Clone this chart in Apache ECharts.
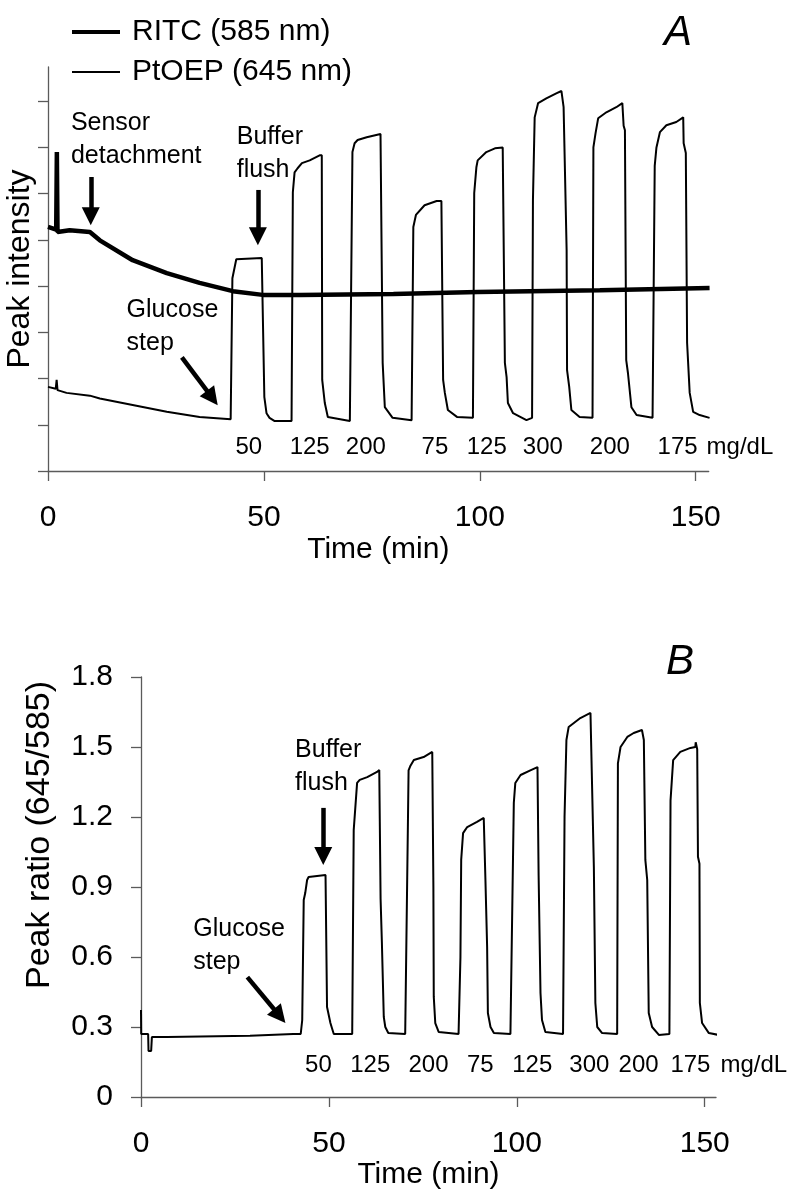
<!DOCTYPE html>
<html><head><meta charset="utf-8">
<script src="https://cdn.jsdelivr.net/npm/echarts@6/dist/echarts.min.js"></script>
<style>html,body{margin:0;padding:0;background:#fff}#c{width:800px;height:1196px}</style>
</head><body><div id="c"></div>
<script>
// ---------- Panel A data (time in min, intensity in arbitrary tick units) ----------
const ptoepTime = [0, 1.8, 2.0, 2.2, 4.3, 9.7, 12.0, 19.6, 27.5, 35.1, 42.3,
  42.5, 42.7, 43.6, 49.5, 49.7, 50.1, 50.6, 51.3, 52.5, 56.4,
  56.7, 57.1, 57.8, 58.8, 60.6, 62.9, 63.4, 63.5, 64.1, 64.8, 69.9, 70.3,
  70.5, 71.0, 71.7, 73.8, 77.0, 77.3, 77.5, 78.0, 79.8, 84.2,
  84.6, 85.2, 87.2, 90.0, 91.1, 91.5, 91.9, 92.6, 94.7, 98.4,
  98.7, 99.2, 99.5, 101.5, 103.5, 105.3, 105.8, 106.2, 106.5, 107.7, 110.8, 112.1,
  112.3, 112.7, 113.5, 115.4, 117.7, 118.9, 119.4, 120.1, 120.2, 120.7, 121.2, 123.1, 126.1,
  126.3, 126.8, 127.4, 129.3, 131.6, 133.0, 133.3, 133.6, 133.9, 134.3, 135.1, 136.3, 140.0,
  140.5, 140.9, 141.7, 143.2, 145.5, 147.1, 147.2, 147.7, 148.0, 148.6, 149.4, 150.9, 153.2];
const ptoepValue = [1.82, 1.78, 1.97, 1.75, 1.69, 1.63, 1.57, 1.43, 1.28, 1.17, 1.12,
  1.12, 4.17, 4.58, 4.61, 4.60, 1.60, 1.25, 1.15, 1.08, 1.08,
  6.03, 6.46, 6.55, 6.66, 6.72, 6.83, 6.83, 1.97, 1.47, 1.17, 1.08, 1.08,
  6.90, 7.09, 7.16, 7.22, 7.29, 7.29, 2.34, 1.38, 1.15, 1.10,
  5.28, 5.54, 5.75, 5.84, 5.84, 1.97, 1.69, 1.32, 1.17, 1.15,
  6.01, 6.57, 6.72, 6.90, 6.98, 7.00, 2.34, 2.03, 1.47, 1.25, 1.10, 1.15,
  5.86, 7.65, 7.96, 8.06, 8.17, 8.22, 7.87, 4.78, 2.18, 1.82, 1.32, 1.17, 1.15,
  7.00, 7.31, 7.63, 7.76, 7.87, 7.96, 7.47, 7.37, 2.40, 2.12, 1.38, 1.21, 1.15,
  6.60, 7.00, 7.33, 7.48, 7.55, 7.65, 7.09, 6.88, 2.77, 1.69, 1.28, 1.21, 1.15];

const ritcTime = [0, 1.9, 2.05, 2.2, 5.0, 9.7, 12.0, 19.6, 27.5, 35.1, 42.8, 49.7, 58.3, 80.0, 99.5, 127.8, 153.2];
const ritcValue = [5.28, 5.22, 6.90, 5.17, 5.21, 5.17, 4.99, 4.56, 4.28, 4.07, 3.89, 3.81, 3.81, 3.83, 3.87, 3.91, 3.96];

// ---------- Panel B data (peak ratio 645/585) ----------
const ratioTime = [0, 0.05, 1.9, 2.0, 2.7, 2.9, 7.0, 29.0, 40.5, 42.5,
  42.9, 43.3, 43.7, 44.2, 44.6, 49.1, 49.2, 49.5, 50.4, 50.8, 51.3, 56.2,
  56.6, 57.5, 58.2, 60.2, 62.8, 63.4, 63.7, 63.75, 64.1, 64.6, 65.0, 65.8, 70.3,
  71.0, 71.2, 71.7, 72.6, 75.2, 77.5, 77.6, 77.8, 77.9, 78.3, 79.2, 84.5,
  85.0, 85.2, 85.7, 86.8, 89.4, 91.2, 91.6, 91.65, 92.1, 92.3, 93.0, 93.9, 98.3,
  98.7, 99.2, 99.6, 101.0, 103.6, 105.5, 105.8, 106.3, 106.7, 107.6, 112.3,
  112.7, 113.2, 113.8, 116.9, 119.6, 120.1, 120.5, 120.9, 121.4, 122.7, 126.7,
  126.9, 127.6, 129.4, 131.1, 133.3, 133.8, 134.2, 134.7, 135.1, 136.0, 137.8, 140.6,
  140.9, 141.6, 143.5, 146.2, 147.5, 147.6, 148.0, 148.2, 148.6, 148.7, 149.3, 151.1, 153.7];
const ratioValue = [0.373, 0.27, 0.27, 0.197, 0.197, 0.257, 0.257, 0.262, 0.27, 0.27,
  0.33, 0.844, 0.874, 0.93, 0.943, 0.951, 0.95, 0.386, 0.317, 0.296, 0.27, 0.27,
  1.144, 1.346, 1.359, 1.371, 1.393, 1.401, 1.40, 0.85, 0.66, 0.343, 0.30, 0.274, 0.27,
  1.144, 1.40, 1.42, 1.444, 1.457, 1.479, 1.479, 0.90, 0.43, 0.317, 0.279, 0.27,
  0.60, 1.016, 1.131, 1.157, 1.179, 1.196, 1.196, 0.93, 0.643, 0.36, 0.30, 0.274, 0.27,
  0.27, 1.26, 1.346, 1.38, 1.40, 1.414, 0.95, 0.446, 0.33, 0.279, 0.27,
  1.20, 1.53, 1.586, 1.624, 1.646, 1.646, 0.986, 0.403, 0.30, 0.274, 0.27,
  1.43, 1.50, 1.543, 1.56, 1.573, 1.53, 1.016, 0.93, 0.36, 0.30, 0.266, 0.27,
  1.27, 1.444, 1.479, 1.496, 1.50, 1.52, 1.49, 1.03, 1.0, 0.403, 0.317, 0.274, 0.266];

// ---------- Tick labels / annotation texts ----------
const xTicks = [0, 50, 100, 150];
const yTicksA = [0, 1, 2, 3, 4, 5, 6, 7, 8];
const concTexts = ['50', '125', '200', '75', '125', '300', '200', '175'];
const concTimeA = [46.5, 60.6, 73.6, 89.6, 101.6, 114.6, 130.1, 145.8];
const concTimeB = [47.2, 61.0, 76.5, 90.3, 104.1, 119.3, 132.4, 146.2];
const notesA = [
  {t: 5.3, y: 7.16, text: 'Sensor\ndetachment'},
  {t: 43.7, y: 6.86, text: 'Buffer\nflush'},
  {t: 18.2, y: 3.12, text: 'Glucose\nstep'}
];
const notesB = [
  {t: 41.0, y: 1.416, text: 'Buffer\nflush'},
  {t: 13.9, y: 0.647, text: 'Glucose\nstep'}
];
const arrowsA = [
  {from: [9.9, 6.36], to: [9.9, 5.51]},
  {from: [48.6, 6.08], to: [48.6, 5.08]},
  {from: [31.0, 2.46], to: [38.05, 1.58]}
];
const arrowsB = [
  {from: [48.5, 1.239], to: [48.5, 1.033]},
  {from: [28.3, 0.514], to: [36.9, 0.347]}
];

const FONT = '"Liberation Sans", Arial, Helvetica, sans-serif';
const AX = '#5a5a5a';
const zip = (t, v) => t.map((x, i) => [x, v[i]]);

function xAxisCfg(grid, gap) {
  return {
    type: 'value', gridIndex: grid, min: 0, max: 153, interval: 50,
    name: 'Time (min)', nameLocation: 'middle', nameGap: gap,
    nameTextStyle: {fontSize: 30, fontFamily: FONT, color: '#000'},
    axisLine: {show: true, lineStyle: {color: AX, width: 1.3}},
    axisTick: {show: true, inside: false, length: 10, lineStyle: {color: AX, width: 1.3}, customValues: xTicks},
    axisLabel: {show: true, fontSize: 30, fontFamily: FONT, color: '#000', margin: 32, customValues: xTicks},
    splitLine: {show: false}
  };
}

function arrowLine(list) {
  return {
    silent: true, symbol: ['none', 'triangle'], symbolSize: 18, animation: false,
    label: {show: false},
    itemStyle: {color: '#000', opacity: 1},
    lineStyle: {color: '#000', width: 4.5, type: 'solid', opacity: 1},
    emphasis: {disabled: true},
    data: list.map(a => [
      {coord: a.from, symbol: 'none'},
      {coord: a.to, symbol: 'triangle', symbolSize: 18}
    ])
  };
}

function textSeries(grid, items, size) {
  return {
    type: 'scatter', xAxisIndex: grid, yAxisIndex: grid, symbol: 'circle', symbolSize: 0,
    silent: true, clip: false, z: 5,
    itemStyle: {opacity: 1, color: '#000'},
    data: items.map(n => ({value: [n.t, n.y], label: {formatter: n.text, align: n.align || 'left'}})),
    label: {show: true, position: [0, 0], verticalAlign: 'middle', fontSize: size,
      lineHeight: 33, color: '#000', opacity: 1, textBorderWidth: 0, fontFamily: FONT}
  };
}

const concItemsA = concTexts.map((s, i) => ({t: concTimeA[i], y: 0.52, text: s, align: 'center'}))
  .concat([{t: 152.5, y: 0.52, text: 'mg/dL', align: 'left'}]);
const concItemsB = concTexts.map((s, i) => ({t: concTimeB[i], y: 0.137, text: s, align: 'center'}))
  .concat([{t: 154.2, y: 0.137, text: 'mg/dL', align: 'left'}]);

const legendCommon = {
  left: 72, orient: 'vertical', padding: 0, itemWidth: 48, selectedMode: false,
  itemStyle: {color: '#000', borderWidth: 0},
  textStyle: {fontSize: 30, fontFamily: FONT, color: '#000', padding: [0, 0, 0, 7]}
};

const chart = echarts.init(document.getElementById('c'), null, {renderer: 'canvas'});
chart.setOption({
  animation: false,
  backgroundColor: '#fff',
  textStyle: {fontFamily: FONT},
  grid: [
    {left: 48, top: 67, right: 91.3, bottom: 725, outerBoundsMode: 'none', containLabel: false},
    {left: 141, top: 677, right: 84, bottom: 99, outerBoundsMode: 'none', containLabel: false}
  ],
  legend: [
    Object.assign({}, legendCommon, {data: [{name: 'RITC (585 nm)', icon: 'rect'}], top: 17, itemHeight: 4}),
    Object.assign({}, legendCommon, {data: [{name: 'PtOEP (645 nm)', icon: 'rect'}], top: 57, itemHeight: 2})
  ],
  xAxis: [xAxisCfg(0, 64), xAxisCfg(1, 61)],
  yAxis: [
    {type: 'value', gridIndex: 0, min: 0, max: 8.74, interval: 1,
      name: 'Peak intensity', nameLocation: 'middle', nameGap: 12,
      nameTextStyle: {fontSize: 32, fontFamily: FONT, color: '#000'},
      axisLine: {show: true, lineStyle: {color: AX, width: 1.3}},
      axisTick: {show: true, inside: false, length: 10, lineStyle: {color: AX, width: 1.3}, customValues: yTicksA},
      axisLabel: {show: false}, splitLine: {show: false}},
    {type: 'value', gridIndex: 1, min: 0, max: 1.8, interval: 0.3,
      name: 'Peak ratio (645/585)', nameLocation: 'middle', nameGap: 84,
      nameTextStyle: {fontSize: 34, fontFamily: FONT, color: '#000', padding: [0, 0, 0, 104]},
      axisLine: {show: true, lineStyle: {color: AX, width: 1.3}},
      axisTick: {show: true, inside: false, length: 10, lineStyle: {color: AX, width: 1.3}},
      axisLabel: {fontSize: 30, fontFamily: FONT, color: '#000', margin: 28,
        formatter: v => (Math.abs(v) < 1e-9 ? '0' : v.toFixed(1))},
      splitLine: {show: false}}
  ],
  graphic: [
    {type: 'text', left: 664, top: 12, style: {text: 'A', fontSize: 42, fontStyle: 'italic', fontFamily: FONT, fill: '#000'}},
    {type: 'text', left: 666, top: 641, style: {text: 'B', fontSize: 42, fontStyle: 'italic', fontFamily: FONT, fill: '#000'}}
  ],
  series: [
    {name: 'RITC (585 nm)', type: 'line', xAxisIndex: 0, yAxisIndex: 0, symbol: 'none', color: '#000',
      data: zip(ritcTime, ritcValue), lineStyle: {width: 4.5, color: '#000'}, z: 3, silent: true},
    {name: 'PtOEP (645 nm)', type: 'line', xAxisIndex: 0, yAxisIndex: 0, symbol: 'none', color: '#000',
      data: zip(ptoepTime, ptoepValue), lineStyle: {width: 2, color: '#000'}, z: 2, silent: true,
      markLine: arrowLine(arrowsA)},
    {name: 'ratio', type: 'line', xAxisIndex: 1, yAxisIndex: 1, symbol: 'none', color: '#000',
      data: zip(ratioTime, ratioValue), lineStyle: {width: 2, color: '#000'}, z: 2, silent: true,
      markLine: arrowLine(arrowsB)},
    textSeries(0, notesA, 25),
    textSeries(0, concItemsA, 24),
    textSeries(1, notesB, 25),
    textSeries(1, concItemsB, 24)
  ]
});
</script></body></html>
